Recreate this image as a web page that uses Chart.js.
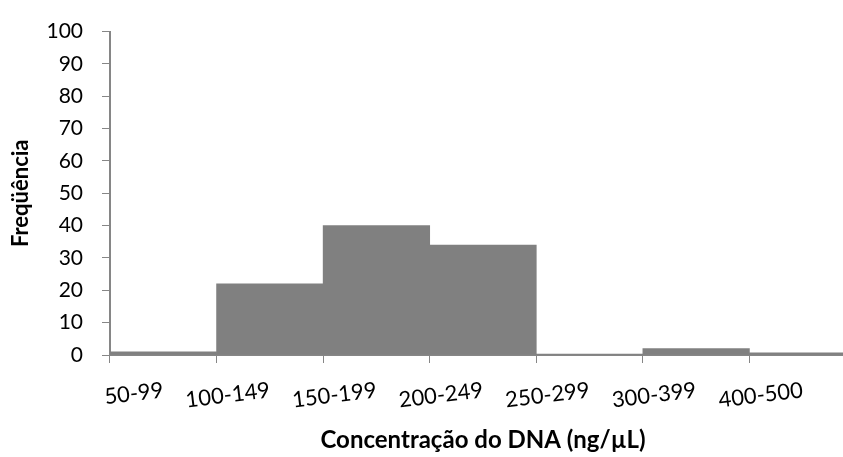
<!DOCTYPE html>
<html>
<head>
<meta charset="utf-8">
<script src="https://cdn.jsdelivr.net/npm/chart.js@4"></script>
<style>
  html, body { margin: 0; padding: 0; background: #fff; overflow: hidden; }
  #wrap { position: absolute; left: 0; top: 0; width: 856px; height: 457px; }
</style>
</head>
<body>
<div id="wrap"><canvas id="hist-chart"></canvas></div>
<script>
// faixas de concentração e frequência de amostras
const faixas = ['50-99', '100-149', '150-199', '200-249', '250-299', '300-399', '400-500'];
const frequencias = [1, 22, 40, 34, 0.3, 2, 0.7];
const yTicks = [0, 10, 20, 30, 40, 50, 60, 70, 80, 90, 100];

const axisGray = '#868686';
const fontFamily = 'Lato, "Open Sans", sans-serif';

const ctx = document.getElementById('hist-chart').getContext('2d');
const histChart = new Chart(ctx, {
  type: 'bar',
  data: {
    labels: faixas,
    datasets: [{
      data: frequencias,
      backgroundColor: '#808080',
      borderWidth: 0,
      categoryPercentage: 1.0,
      barPercentage: 1.0
    }]
  },
  options: {
    responsive: true,
    maintainAspectRatio: false,
    animation: false,
    layout: { padding: { top: 29, right: 0, left: 0, bottom: 0 } },
    plugins: {
      legend: { display: false },
      tooltip: { enabled: false }
    },
    scales: {
      x: {
        grid: { display: true, drawOnChartArea: false, color: axisGray, tickLength: 8, offset: true },
        border: { color: axisGray, width: 2 },
        ticks: {
          color: '#000',
          font: { family: fontFamily, size: 22 },
          minRotation: 7,
          maxRotation: 7,
          padding: 14
        },
        title: {
          display: true,
          text: 'Concentração do DNA (ng/µL)',
          color: '#000',
          font: { family: fontFamily, size: 24, weight: 'bold' },
          padding: { top: 4, bottom: 2 }
        },
        afterFit(scale) { scale.height = 102; }
      },
      y: {
        min: 0,
        max: 100,
        afterBuildTicks(scale) { scale.ticks = yTicks.map(v => ({ value: v })); },
        grid: { display: true, drawOnChartArea: false, color: axisGray, tickLength: 8 },
        border: { color: axisGray, width: 2 },
        ticks: {
          color: '#000',
          font: { family: fontFamily, size: 21 },
          padding: 19
        },
        title: {
          display: true,
          text: 'Freqüência',
          color: '#000',
          font: { family: fontFamily, size: 22, weight: 'bold' },
          padding: { top: 8, bottom: 0 }
        },
        afterFit(scale) { scale.width = 110; }
      }
    }
  }
});
</script>
</body>
</html>
